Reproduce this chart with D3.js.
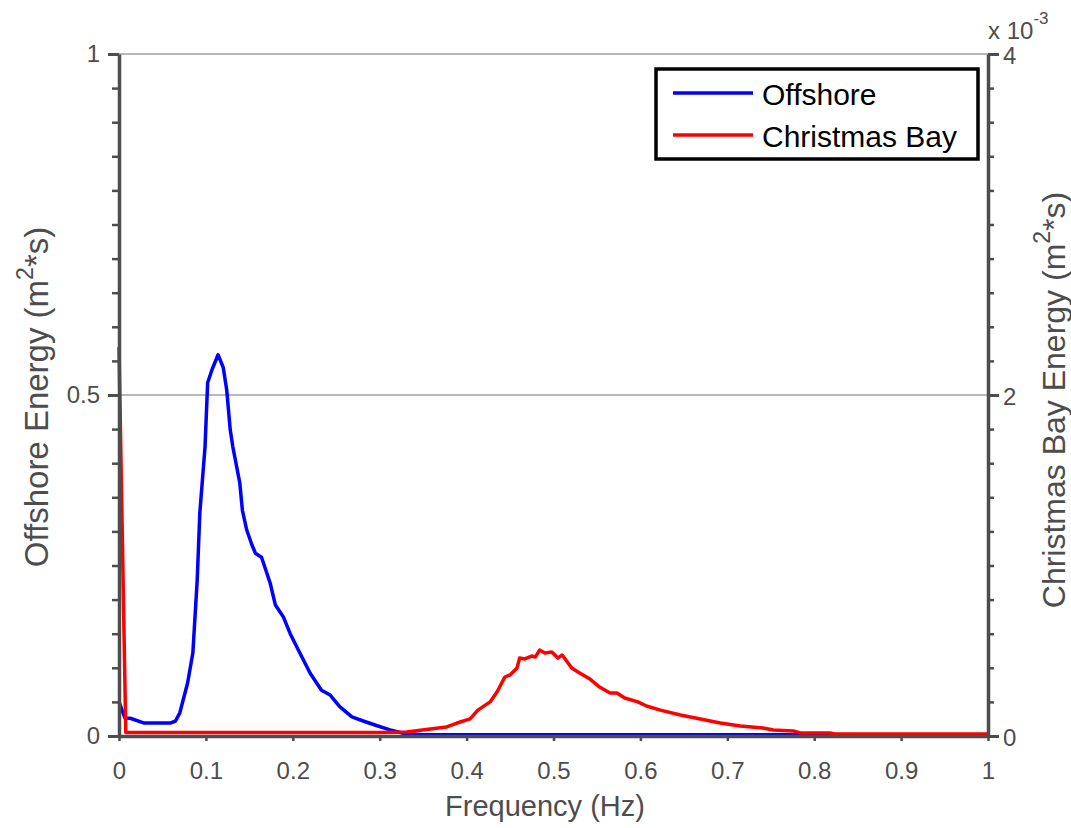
<html>
<head>
    <title>Energy spectra</title>
    <script src="https://d3js.org/d3.v7.min.js"></script>
    <style>
        body { margin: 0; background: #fff; }
        text { font-family: "Liberation Sans", Arial, sans-serif; }
        .axis path, .axis line { stroke: #4d4d4d; }
        .axis text { fill: #4d4d4d; font-size: 24px; }
    </style>
</head>
<body>
    <svg id="chart"></svg>
    <script>
        // offshore spectrum (m^2*s)
        var offFreq = [0, 0.007, 0.013, 0.029, 0.045, 0.059, 0.065, 0.07, 0.079, 0.085, 0.09, 0.093, 0.099, 0.102,
            0.107, 0.114, 0.12, 0.124, 0.128, 0.131, 0.139, 0.142, 0.147, 0.153, 0.157, 0.164, 0.174, 0.18, 0.189,
            0.197, 0.208, 0.22, 0.233, 0.243, 0.254, 0.268, 0.281, 0.297, 0.312, 0.327, 0.35, 0.5, 0.7, 0.818];
        var offEnergy = [0.05, 0.026, 0.026, 0.019, 0.019, 0.019, 0.022, 0.034, 0.078, 0.122, 0.229, 0.327, 0.424, 0.518,
            0.537, 0.559, 0.54, 0.507, 0.449, 0.424, 0.371, 0.331, 0.302, 0.28, 0.268, 0.262, 0.224, 0.192, 0.175,
            0.15, 0.122, 0.092, 0.067, 0.06, 0.043, 0.028, 0.022, 0.015, 0.009, 0.004, 0.002, 0.002, 0.002, 0.002];
        // Christmas Bay spectrum, in units of 1e-3 m^2*s
        var bayFreq = [0, 0.0078, 0.1, 0.2, 0.3, 0.331, 0.356, 0.377, 0.389, 0.404, 0.413, 0.427, 0.435, 0.444, 0.45,
            0.458, 0.461, 0.467, 0.475, 0.479, 0.484, 0.49, 0.498, 0.505, 0.51, 0.521, 0.53, 0.542, 0.553, 0.565,
            0.573, 0.582, 0.597, 0.607, 0.623, 0.646, 0.669, 0.692, 0.715, 0.741, 0.753, 0.776, 0.784, 0.818, 0.824,
            0.9, 1];
        var bayEnergy = [2.28, 0.02, 0.02, 0.02, 0.02, 0.023, 0.04, 0.053, 0.076, 0.1, 0.152, 0.2, 0.258, 0.346, 0.358,
            0.399, 0.457, 0.452, 0.469, 0.463, 0.504, 0.487, 0.493, 0.457, 0.475, 0.399, 0.37, 0.334, 0.287, 0.252,
            0.252, 0.223, 0.2, 0.176, 0.152, 0.123, 0.1, 0.076, 0.059, 0.047, 0.035, 0.029, 0.018, 0.018, 0.012,
            0.012, 0.012];
        var xTicks = d3.range(0, 1.0001, 0.1);
        var leftTicks = [0, 0.5, 1];
        var rightTicks = [0, 2, 4];
        var seriesNames = ["Offshore", "Christmas Bay"];

        var W = 1071, H = 828;
        var pLeft = 119, pRight = 988, pTop = 54, pBottom = 736;

        var svg = d3.select("#chart").attr("width", W).attr("height", H);

        var x = d3.scaleLinear().domain([0, 1]).range([pLeft, pRight]);
        var yL = d3.scaleLinear().domain([0, 1]).range([pBottom, pTop]);
        var yR = d3.scaleLinear().domain([0, 4]).range([pBottom, pTop]);

        // grid at major left ticks
        svg.append("g").selectAll("line")
            .data(leftTicks.slice(1))
            .enter().append("line")
            .attr("x1", pLeft).attr("x2", pRight)
            .attr("y1", function (d) { return yL(d); })
            .attr("y2", function (d) { return yL(d); })
            .attr("stroke", "#a0a0a0").attr("stroke-width", 1.3);

        // data lines
        var offData = offFreq.map(function (f, i) { return [f, offEnergy[i]]; });
        var bayData = bayFreq.map(function (f, i) { return [f, bayEnergy[i]]; });

        svg.append("path").datum(offData)
            .attr("fill", "none").attr("stroke", "#0000ff").attr("stroke-width", 3.5)
            .attr("stroke-linejoin", "round")
            .attr("d", d3.line().x(function (d) { return x(d[0]); }).y(function (d) { return yL(d[1]); }));
        svg.append("path").datum(bayData)
            .attr("fill", "none").attr("stroke", "#ff0000").attr("stroke-width", 3.5)
            .attr("stroke-linejoin", "round")
            .attr("d", d3.line().x(function (d) { return x(d[0]); }).y(function (d) { return yR(d[1]); }));

        // left axis: minor then major
        svg.append("g").attr("class", "axis")
            .attr("transform", "translate(" + pLeft + ",0)")
            .call(d3.axisLeft(yL).tickValues(d3.range(0, 1.0001, 0.05)).tickSize(7).tickSizeOuter(0).tickFormat(""))
            .call(function (g) { g.selectAll("line").attr("stroke-width", 2.5); g.select(".domain").attr("stroke-width", 3.5); });
        svg.append("g").attr("class", "axis")
            .attr("transform", "translate(" + pLeft + ",0)")
            .call(d3.axisLeft(yL).tickValues(leftTicks).tickSize(11).tickPadding(8).tickSizeOuter(0)
                .tickFormat(function (d) { return d === 0.5 ? "0.5" : d; }))
            .call(function (g) { g.selectAll("line").attr("stroke-width", 3); g.select(".domain").remove(); });

        // right axis
        svg.append("g").attr("class", "axis")
            .attr("transform", "translate(" + pRight + ",0)")
            .call(d3.axisRight(yR).tickValues(d3.range(0, 4.0001, 0.2)).tickSize(6).tickSizeOuter(0).tickFormat(""))
            .call(function (g) { g.selectAll("line").attr("stroke-width", 2.5); g.select(".domain").attr("stroke-width", 3.5); });
        svg.append("g").attr("class", "axis")
            .attr("transform", "translate(" + pRight + ",0)")
            .call(d3.axisRight(yR).tickValues(rightTicks).tickSize(11).tickPadding(4).tickSizeOuter(0)
                .tickFormat(d3.format("d")))
            .call(function (g) {
                g.selectAll("line").attr("stroke-width", 3);
                g.select(".domain").remove();
                g.selectAll("text").attr("dy", "0.4em");
            });

        // bottom axis
        svg.append("g").attr("class", "axis")
            .attr("transform", "translate(0," + pBottom + ")")
            .call(d3.axisBottom(x).tickValues(xTicks).tickSize(5).tickPadding(21).tickSizeOuter(0)
                .tickFormat(function (d) { return d === 0 ? "0" : d === 1 ? "1" : d3.format(".1f")(d); }))
            .call(function (g) { g.selectAll("line").attr("stroke-width", 2.5); g.select(".domain").attr("stroke-width", 3.5); });

        // exponent label
        var ex = svg.append("text").attr("x", 988).attr("y", 39).attr("fill", "#4d4d4d").style("font-size", "24px");
        ex.append("tspan").text("x 10");
        ex.append("tspan").attr("dy", -15).style("font-size", "17px").text("-3");

        // axis titles
        function title(tx, ty, rot, size, main, sup, tail) {
            var t = svg.append("text")
                .attr("transform", "translate(" + tx + "," + ty + ")" + (rot ? " rotate(-90)" : ""))
                .attr("text-anchor", "middle").attr("fill", "#4d4d4d").style("font-size", size + "px");
            t.append("tspan").text(main);
            if (sup) {
                t.append("tspan").attr("dy", -15).style("font-size", "23px").text(sup);
                t.append("tspan").attr("dy", 15).text(tail);
            }
        }
        title(545, 816, false, 29, "Frequency (Hz)");
        title(48, 397, true, 33, "Offshore Energy (m", "2", "*s)");
        title(1065, 400, true, 32, "Christmas Bay Energy (m", "2", "*s)");

        // legend
        var lg = svg.append("g");
        lg.append("rect").attr("x", 656).attr("y", 69).attr("width", 322).attr("height", 90)
            .attr("fill", "#fff").attr("stroke", "#000").attr("stroke-width", 3.5);
        var colors = ["#0000ff", "#ff0000"];
        seriesNames.forEach(function (name, i) {
            var ly = 93 + i * 42;
            lg.append("line").attr("x1", 673).attr("x2", 753).attr("y1", ly).attr("y2", ly)
                .attr("stroke", colors[i]).attr("stroke-width", 3.5);
            lg.append("text").attr("x", 762).attr("y", ly + 12).attr("fill", "#000")
                .style("font-size", "30px").text(name);
        });
    </script>
</body>
</html>
